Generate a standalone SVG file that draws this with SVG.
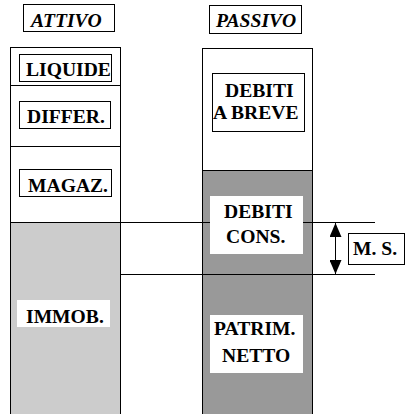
<svg xmlns="http://www.w3.org/2000/svg" width="405" height="414" viewBox="0 0 405 414">
<style>
.t{font-family:"Liberation Serif","Times New Roman",serif;font-weight:bold;font-size:19.6px;fill:#000}
.i{font-style:italic}
.b{fill:#fff;stroke:#000;stroke-width:1}
.l{stroke:#000;stroke-width:1;fill:none}
</style>
<defs>
<marker id="ah" viewBox="0 0 14 12" refX="14" refY="6" markerWidth="14" markerHeight="12" markerUnits="userSpaceOnUse" orient="auto-start-reverse">
<path d="M0,0 L14,6 L0,12 Z" fill="#000"/>
</marker>
</defs>
<rect width="405" height="414" fill="#fff"/>
<g id="attivo-col">
<rect x="10.5" y="47.5" width="110" height="380" class="b"/>
<rect x="10.5" y="222.5" width="110" height="200" fill="#cccccc" stroke="#000"/>
<line x1="10" y1="85.5" x2="121" y2="85.5" class="l"/>
<line x1="10" y1="146.5" x2="121" y2="146.5" class="l"/>
</g>
<g id="passivo-col">
<rect x="202.5" y="48.5" width="110" height="380" class="b"/>
<rect x="202.5" y="170.5" width="110" height="250" fill="#999999" stroke="#000"/>
</g>
<g id="connectors">
<line x1="120" y1="222.5" x2="375" y2="222.5" class="l"/>
<line x1="120" y1="274.5" x2="375" y2="274.5" class="l"/>
<line x1="335.5" y1="223" x2="335.5" y2="274" class="l" marker-start="url(#ah)" marker-end="url(#ah)"/>
</g>
<g id="attivo">
<rect x="23.5" y="4.5" width="91" height="27" class="b"/>
<text x="31" y="27" class="t i">ATTIVO</text>
</g>
<g id="liquide">
<rect x="19.5" y="54.5" width="92" height="27" class="b"/>
<text x="26" y="76" class="t">LIQUIDE</text>
</g>
<g id="differ">
<rect x="19.5" y="101.5" width="91" height="27" class="b"/>
<text x="27" y="123" class="t">DIFFER.</text>
</g>
<g id="magaz">
<rect x="19.5" y="169.5" width="92" height="27" class="b"/>
<text x="28" y="192" class="t">MAGAZ.</text>
</g>
<g id="immob">
<rect x="17" y="300" width="93" height="27" fill="#fff"/>
<text x="26" y="323" class="t">IMMOB.</text>
</g>
<g id="passivo">
<rect x="209.5" y="5.5" width="92" height="28" class="b"/>
<text x="216" y="27" class="t i">PASSIVO</text>
</g>
<g id="debiti-breve">
<rect x="212.5" y="73.5" width="92" height="58" class="b"/>
<text x="225" y="97" class="t">DEBITI</text>
<text x="213" y="119" class="t">A BREVE</text>
</g>
<g id="debiti-cons">
<rect x="210" y="196" width="93" height="58" fill="#fff"/>
<text x="224" y="218" class="t">DEBITI</text>
<text x="226" y="243" class="t">CONS.</text>
</g>
<g id="ms">
<rect x="348.5" y="233.5" width="56" height="31" class="b"/>
<text x="353" y="255" class="t">M. S.</text>
</g>
<g id="patrim">
<rect x="210" y="315" width="93" height="58" fill="#fff"/>
<text x="214" y="335" class="t">PATRIM.</text>
<text x="222" y="362" class="t">NETTO</text>
</g>
</svg>
